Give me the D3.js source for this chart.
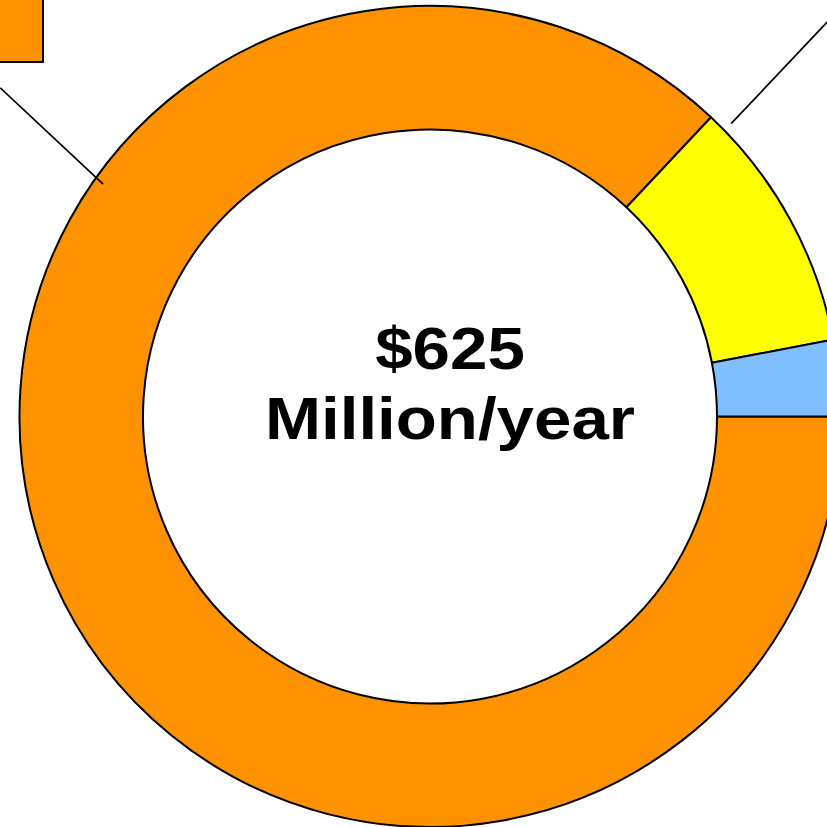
<!DOCTYPE html>
<html>
<head>
<meta charset="utf-8">
<script src="https://cdn.jsdelivr.net/npm/d3@7"></script>
<style>
  html, body { margin: 0; padding: 0; background: #fff; }
  svg { display: block; }
</style>
</head>
<body>
<svg></svg>
<script>
// slice shares (percent of total), clockwise from 3 o'clock
var categories = ["Orange", "Yellow", "Blue"];
var shares = [87, 10, 3];
var colors = ["#ff9200", "#ffff00", "#80bfff"];
var centerLines = ["$625", "Million/year"];

// leader lines: [angle deg, radius] start and end
var leaders = [
  { from: [305.4, 401], to: [307.4, 541] },
  { from: [45.8, 420], to: [45.2, 560] }
];

var width = 827, height = 827;
var cx = 430, cy = 416.5;
var outerR = 410.5, innerR = 287;

var svg = d3.select("svg")
    .attr("width", width)
    .attr("height", height);

var g = svg.append("g")
    .attr("transform", "translate(" + cx + "," + cy + ")");

var pie = d3.pie()
    .sort(null)
    .value(function(d) { return d; })
    .startAngle(Math.PI / 2)
    .endAngle(Math.PI / 2 + 2 * Math.PI);

var arc = d3.arc()
    .innerRadius(innerR)
    .outerRadius(outerR);

g.selectAll(".slice")
    .data(pie(shares))
  .enter().append("path")
    .attr("class", "slice")
    .attr("d", arc)
    .attr("fill", function(d, i) { return colors[i]; })
    .attr("stroke", "#000")
    .attr("stroke-width", 2)
    .attr("stroke-linejoin", "round");

var rad = function(deg) { return deg * Math.PI / 180; };

g.selectAll(".leader")
    .data(leaders)
  .enter().append("line")
    .attr("class", "leader")
    .attr("x1", function(d) { return d3.pointRadial(rad(d.from[0]), d.from[1])[0]; })
    .attr("y1", function(d) { return d3.pointRadial(rad(d.from[0]), d.from[1])[1]; })
    .attr("x2", function(d) { return d3.pointRadial(rad(d.to[0]), d.to[1])[0]; })
    .attr("y2", function(d) { return d3.pointRadial(rad(d.to[0]), d.to[1])[1]; })
    .attr("stroke", "#000")
    .attr("stroke-width", 1.7);

// label box of the big slice, mostly off the page
g.append("rect")
    .attr("x", -cx - 60)
    .attr("y", -cy - 40)
    .attr("width", 60 + cx - 387)
    .attr("height", 40 + cy - 354.5)
    .attr("fill", colors[0])
    .attr("stroke", "#000")
    .attr("stroke-width", 2);

var txt = g.append("text")
    .attr("text-anchor", "middle")
    .attr("transform", "translate(20,0) scale(1.14,1)")
    .style("font-family", "'Liberation Sans', Arial, sans-serif")
    .style("font-weight", "bold")
    .style("font-size", "59px")
    .attr("fill", "#000");

txt.selectAll("tspan")
    .data(centerLines)
  .enter().append("tspan")
    .attr("x", 0)
    .attr("y", function(d, i) { return -47.5 + i * 70; })
    .text(function(d) { return d; });
</script>
</body>
</html>
